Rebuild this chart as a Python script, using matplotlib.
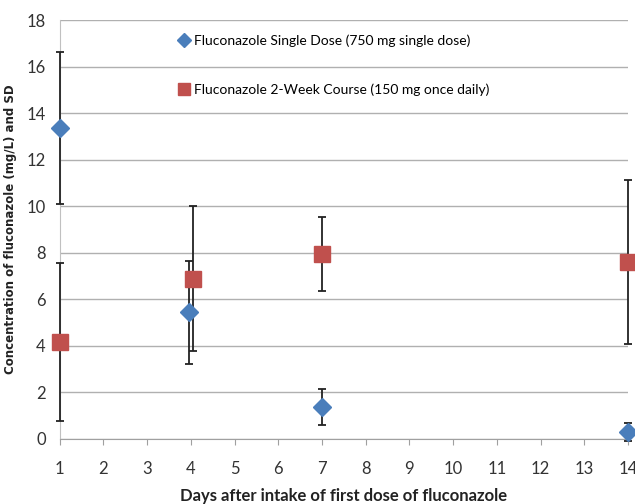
import matplotlib
matplotlib.use("Agg")
import matplotlib.pyplot as plt

plt.rcParams['font.family'] = ['Lato', 'DejaVu Sans']

# data
single_days = [1, 3.95, 7, 14]
single_mean = [13.37, 5.45, 1.38, 0.30]
single_sd = [3.28, 2.22, 0.78, 0.38]

course_days = [1, 4.05, 7, 14]
course_mean = [4.17, 6.88, 7.95, 7.62]
course_sd = [3.38, 3.12, 1.59, 3.52]

fig = plt.figure(figsize=(6.35, 5.04), dpi=100)
ax = fig.add_axes([0.094, 0.129, 0.895, 0.831])

for days, mean, sd in [(single_days, single_mean, single_sd),
                       (course_days, course_mean, course_sd)]:
    eb = ax.errorbar(days, mean, yerr=sd, fmt='none', ecolor='#222222',
                     elinewidth=1.3, capsize=3, capthick=1.3, zorder=3)
    for art in eb.lines[1] + eb.lines[2]:
        art.set_clip_on(False)

ax.plot(single_days, single_mean, linestyle='none', marker='D', markersize=9,
        color='#4A7EBB', label='Fluconazole Single Dose (750 mg single dose)',
        zorder=4, clip_on=False)
ax.plot(course_days, course_mean, linestyle='none', marker='s', markersize=11,
        color='#C0504D', label='Fluconazole 2-Week Course (150 mg once daily)',
        zorder=4, clip_on=False)

ax.set_xlim(1, 14)
ax.set_ylim(0, 18)
ax.set_xticks(range(1, 15))
ax.set_yticks(range(0, 19, 2))
ax.yaxis.grid(True, color='#b0b0b0', linewidth=1)
ax.set_axisbelow(True)

for s in ['top', 'right']:
    ax.spines[s].set_visible(False)
ax.spines['left'].set_color('#c0c0c0')
ax.spines['bottom'].set_color('#a0a0a0')
ax.tick_params(axis='y', length=0, labelsize=12, pad=10, colors='#333333')
ax.tick_params(axis='x', length=4, color='#a0a0a0', labelsize=12, pad=12, colors='#333333')

ax.set_xlabel('Days after intake of first dose of fluconazole', fontsize=12,
              fontweight='bold', color='#222222', labelpad=8)
ax.set_ylabel('Concentration of fluconazole (mg/L) and SD', fontsize=8.5,
              fontweight='bold', color='#222222', family='DejaVu Sans', labelpad=7)

ax.legend(loc='upper left', bbox_to_anchor=(0.185, 0.995), frameon=False,
          fontsize=10, labelspacing=2.6, handletextpad=0.2, markerscale=0.8,
          handlelength=1.0)

plt.savefig('out.png', dpi=100)
